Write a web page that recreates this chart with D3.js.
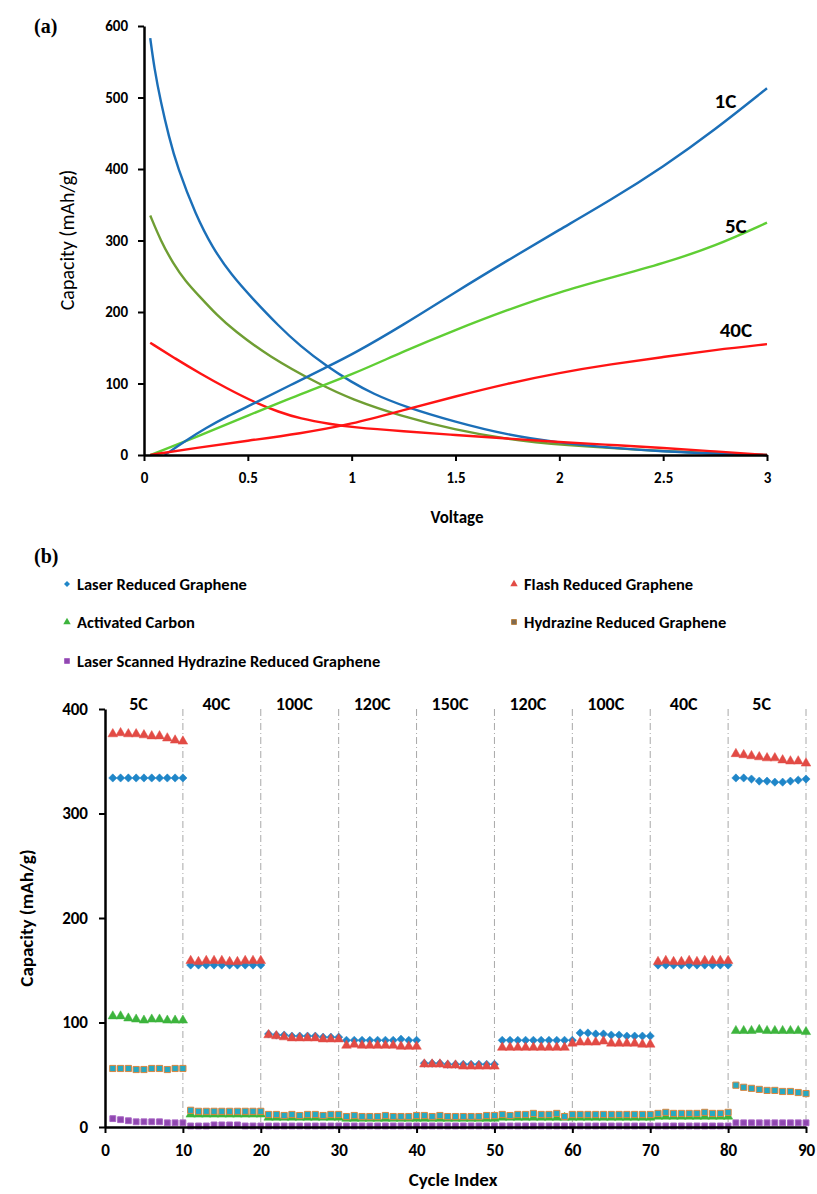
<!DOCTYPE html>
<meta charset="utf-8">
<style type="text/css">
	body { margin: 0; background: #fff; }
	svg { display: block; }
	text { font-family: Carlito, Lato, "Open Sans", sans-serif; fill: #000; }
	.panel { font-family: "Liberation Serif", "Times New Roman", serif; font-weight: bold; font-size: 20px; }
</style>
<body></body>
<script src="https://d3js.org/d3.v7.min.js"></script>
<script>

	// ---- (a) capacity vs voltage ----
	var v1cCharge   = [0.1, 0.2, 0.3, 0.4, 0.53, 0.7, 0.88, 1.0, 1.25, 1.5, 1.75, 2.0, 2.25, 2.5, 2.75, 3.0];
	var cap1cCharge = [0, 20, 38, 54, 72, 97, 123, 140, 182, 228, 272, 315, 357, 403, 455, 513];
	var v1cDis      = [0.03, 0.05, 0.08, 0.12, 0.16, 0.25, 0.33, 0.42, 0.525, 0.65, 0.75, 0.88, 1.0, 1.1, 1.25, 1.5, 1.75, 2.0, 2.25, 2.5, 2.75, 3.0];
	var cap1cDis    = [583, 540, 495, 445, 403, 335, 290, 252, 218, 180, 153, 124, 102, 86, 68, 46, 28, 17, 10, 5, 2, 0];

	var v5cCharge   = [0.03, 0.25, 0.5, 0.75, 1.0, 1.25, 1.5, 1.75, 2.0, 2.25, 2.5, 2.75, 3.0];
	var cap5cCharge = [0, 25, 55, 85, 112, 145, 175, 203, 228, 248, 268, 292, 325];
	var v5cDis      = [0.03, 0.08, 0.14, 0.2, 0.27, 0.35, 0.43, 0.6, 0.85, 1.0, 1.23, 1.5, 1.75, 2.0, 2.5, 3.0];
	var cap5cDis    = [335, 300, 268, 243, 221, 196, 175, 138, 98, 78, 55, 35, 22, 14, 5, 0];

	var v40cCharge   = [0.03, 0.25, 0.5, 0.75, 1.0, 1.25, 1.5, 1.75, 2.0, 2.25, 2.5, 2.75, 3.0];
	var cap40cCharge = [0, 10, 20, 30, 43, 63, 82, 100, 115, 127, 137, 147, 155];
	var v40cDis      = [0.03, 0.15, 0.27, 0.4, 0.53, 0.65, 0.75, 0.9, 1.0, 1.25, 1.5, 1.75, 2.0, 2.25, 2.5, 2.75, 3.0];
	var cap40cDis    = [157, 135, 114, 93, 74, 60, 51, 43, 39, 33, 28, 23, 18, 14, 10, 5, 0];

	var rateLabels = ["1C", "5C", "40C"];
	var voltTicks = [0, 0.5, 1, 1.5, 2, 2.5, 3];
	var capTicksA = [0, 100, 200, 300, 400, 500, 600];

	// ---- (b) rate capability ----
	var segmentLabels = ["5C", "40C", "100C", "120C", "150C", "120C", "100C", "40C", "5C"];
	var seriesNames = ["Laser Reduced Graphene", "Flash Reduced Graphene", "Activated Carbon",
		"Hydrazine Reduced Graphene", "Laser Scanned Hydrazine Reduced Graphene"];

	var laserRG = [
		334,334,334,334,334,334,334,334,334,334,
		155,155,155,155,155,155,155,155,155,155,
		89,88,88,87,87,87,87,86,86,86,
		83,83,83,83,83,83,83,84,83,83,
		61,61,61,60,60,60,60,60,60,60,
		83,83,83,83,83,83,83,83,83,83,
		90,90,89,89,88,88,87,87,87,87,
		155,155,155,155,155,155,155,155,155,155,
		334,334,333,331,331,330,330,331,332,333];
	var flashRG = [
		377,378,377,377,376,375,375,373,371,370,
		160,159,160,160,160,159,159,160,160,160,
		89,88,87,86,86,86,86,85,85,85,
		79,80,79,79,79,79,79,78,78,78,
		61,61,61,60,60,59,59,59,59,59,
		77,77,77,77,77,77,77,77,77,81,
		82,82,82,83,81,81,81,81,80,80,
		159,160,159,159,160,159,160,160,160,160,
		358,357,356,355,354,354,352,351,351,349];
	var activatedC = [
		107,107,105,104,103,104,104,103,103,103,
		13,13,13,13,13,13,13,13,13,13,
		10,10,10,10,10,10,10,10,10,10,
		9,9,9,9,9,9,9,9,9,9,
		9,9,9,9,9,9,9,9,9,9,
		10,10,10,10,10,10,10,10,10,10,
		10,10,10,10,10,10,10,10,10,10,
		11,11,11,11,11,11,11,11,11,11,
		93,93,93,94,93,93,93,93,93,92];
	var hydrazineRG = [
		56,56,56,55,55,56,56,55,56,56,
		16,15,15,15,15,15,15,15,15,15,
		12,12,11,12,11,12,12,11,12,12,
		10,11,10,10,10,11,10,10,10,11,
		11,10,11,10,10,10,10,10,11,11,
		12,11,12,12,13,12,12,13,10,12,
		12,12,12,12,12,12,12,12,12,12,
		13,14,13,13,13,13,14,13,13,14,
		40,38,37,36,35,35,34,34,33,32];
	var laserScannedHRG = [
		8,7,6,5,5,5,5,4,4,4,
		1,1,1,2,2,2,2,1,1,1,
		1,1,1,1,1,1,1,1,1,1,
		1,1,1,1,1,1,1,1,1,1,
		1,1,1,1,1,1,1,1,1,1,
		1,1,1,1,1,1,1,1,1,1,
		1,1,1,1,1,1,1,1,1,1,
		1,1,1,1,1,1,1,1,1,1,
		4,4,4,4,4,4,4,4,4,4];
	var cycleTicks = [0, 10, 20, 30, 40, 50, 60, 70, 80, 90];
	var capTicksB = [0, 100, 200, 300, 400];

	var blue = "#1b6fb8", green = "#5fce34", olive = "#6f9e33", red = "#ff1414";

	var svg = d3.select("body").append("svg")
		.attr("width", 817)
		.attr("height", 1194);

	// ================= panel (a) =================
	var xA = d3.scaleLinear().domain([0, 3]).range([144, 767]);
	var yA = d3.scaleLinear().domain([0, 600]).range([455, 26]);

	svg.append("text").attr("class", "panel").attr("x", 34).attr("y", 33).text("(a)");

	var line = d3.line()
		.x(function(d) { return xA(d[0]); })
		.y(function(d) { return yA(d[1]); })
		.curve(d3.curveBasis);

	var curves = [
		{v: v5cDis, c: cap5cDis, color: olive},
		{v: v1cDis, c: cap1cDis, color: blue},
		{v: v40cDis, c: cap40cDis, color: red},
		{v: v5cCharge, c: cap5cCharge, color: green},
		{v: v1cCharge, c: cap1cCharge, color: blue},
		{v: v40cCharge, c: cap40cCharge, color: red}
	];

	svg.append("g").selectAll("path")
		.data(curves)
		.enter()
		.append("path")
		.attr("d", function(d) { return line(d3.zip(d.v, d.c)); })
		.attr("fill", "none")
		.attr("stroke", function(d) { return d.color; })
		.attr("stroke-width", 2.4);

	var axA = svg.append("g");
	axA.append("g")
		.attr("transform", "translate(0,455)")
		.call(d3.axisBottom(xA).tickValues(voltTicks).tickFormat(d3.format("")).tickSizeInner(6).tickSizeOuter(0).tickPadding(11));
	axA.append("g")
		.attr("transform", "translate(144,0)")
		.call(d3.axisLeft(yA).tickValues(capTicksA).tickSizeInner(6).tickSizeOuter(0).tickPadding(10));
	axA.selectAll(".domain").attr("stroke", "#000").attr("stroke-width", 2.5);
	axA.selectAll(".tick line").attr("stroke", "#000").attr("stroke-width", 2);
	axA.selectAll(".tick text").attr("font-size", "15px").attr("font-weight", "bold")
		.attr("font-family", "Carlito, Lato, sans-serif");

	svg.append("text")
		.attr("x", 457).attr("y", 523)
		.attr("text-anchor", "middle")
		.attr("font-size", "17px").attr("font-weight", "bold")
		.text("Voltage");
	svg.append("text")
		.attr("transform", "translate(74,240) rotate(-90)")
		.attr("text-anchor", "middle")
		.attr("font-size", "20px")
		.text("Capacity (mAh/g)");

	var rateEnds = [cap1cCharge[cap1cCharge.length - 1], cap5cCharge[cap5cCharge.length - 1], cap40cCharge[cap40cCharge.length - 1]];
	var rateDy = [20, 10, -7];
	var rateX = [2.8, 2.85, 2.85];
	svg.append("g").selectAll("text")
		.data(rateLabels)
		.enter()
		.append("text")
		.attr("x", function(d, i) { return xA(rateX[i]); })
		.attr("y", function(d, i) { return yA(rateEnds[i]) + rateDy[i]; })
		.attr("text-anchor", "middle")
		.attr("font-size", "21px").attr("font-weight", "bold")
		.text(function(d) { return d; });

	// ================= panel (b) =================
	var xB = d3.scaleLinear().domain([0, 90]).range([105, 806]);
	var yB = d3.scaleLinear().domain([0, 400]).range([1127, 709]);

	svg.append("text").attr("class", "panel").attr("x", 34).attr("y", 563).text("(b)");

	// legend
	var legendPos = [[67, 584], [514, 584], [67, 622], [514, 622], [67, 661]];
	var legendShapes = [
		{sym: d3.symbolSquare, rot: 45, size: 18, fill: "#1f86c8", stroke: "none"},
		{sym: d3.symbolTriangle, rot: 0, size: 24, fill: "#e24b45", stroke: "none"},
		{sym: d3.symbolTriangle, rot: 0, size: 24, fill: "#3db43d", stroke: "none"},
		{sym: d3.symbolSquare, rot: 0, size: 24, fill: "#7d6a52", stroke: "#b8823f"},
		{sym: d3.symbolSquare, rot: 0, size: 24, fill: "#8f47b0", stroke: "#a866c4"}
	];
	var legend = svg.append("g").selectAll("g")
		.data(seriesNames)
		.enter()
		.append("g")
		.attr("transform", function(d, i) { return "translate(" + legendPos[i][0] + "," + legendPos[i][1] + ")"; });
	legend.append("path")
		.attr("transform", function(d, i) { return "rotate(" + legendShapes[i].rot + ")"; })
		.attr("d", function(d, i) { return d3.symbol().type(legendShapes[i].sym).size(legendShapes[i].size)(); })
		.attr("fill", function(d, i) { return legendShapes[i].fill; })
		.attr("stroke", function(d, i) { return legendShapes[i].stroke; });
	legend.append("text")
		.attr("x", 10).attr("y", 6)
		.attr("font-size", "16.5px").attr("font-weight", "600")
		.text(function(d) { return d; });

	// segment separators
	svg.append("g").selectAll("line")
		.data(cycleTicks.slice(1))
		.enter()
		.append("line")
		.attr("x1", function(d) { return xB(d); })
		.attr("x2", function(d) { return xB(d); })
		.attr("y1", yB(400))
		.attr("y2", yB(0))
		.attr("stroke", "#a8a8a8")
		.attr("stroke-width", 1)
		.attr("stroke-dasharray", "7,3,1,3");

	svg.append("g").selectAll("text")
		.data(segmentLabels)
		.enter()
		.append("text")
		.attr("x", function(d, i) { return xB(i * 10 + 4.3); })
		.attr("y", 710)
		.attr("text-anchor", "middle")
		.attr("font-size", "18px").attr("font-weight", "bold")
		.text(function(d) { return d; });

	// series, drawn in order so later series sit on top
	var seriesData = [laserRG, flashRG, activatedC, hydrazineRG, laserScannedHRG];
	var markers = [
		{sym: d3.symbolSquare, rot: 45, size: 34, fill: "#1f86c8", stroke: "#1f86c8", sw: 0.5, dy: 0},
		{sym: d3.symbolTriangle, rot: 0, size: 40, fill: "#e24b45", stroke: "#e24b45", sw: 0.5, dy: 1},
		{sym: d3.symbolTriangle, rot: 0, size: 38, fill: "#3db43d", stroke: "#3db43d", sw: 0.5, dy: 1},
		{sym: d3.symbolSquare, rot: 0, size: 38, fill: "#27a9c2", stroke: "#d9863f", sw: 1, dy: 0},
		{sym: d3.symbolSquare, rot: 0, size: 34, fill: "#8f47b0", stroke: "#a866c4", sw: 1, dy: 0}
	];

	seriesData.forEach(function(values, s) {
		var m = markers[s];
		svg.append("g").selectAll("path")
			.data(values)
			.enter()
			.append("path")
			.attr("transform", function(d, i) {
				return "translate(" + xB(i + 1) + "," + (yB(d) + m.dy) + ") rotate(" + m.rot + ")";
			})
			.attr("d", d3.symbol().type(m.sym).size(m.size))
			.attr("fill", m.fill)
			.attr("stroke", m.stroke)
			.attr("stroke-width", m.sw);
	});

	var axB = svg.append("g");
	axB.append("g")
		.attr("transform", "translate(0,1127)")
		.call(d3.axisBottom(xB).tickValues(cycleTicks).tickSizeInner(6).tickSizeOuter(0).tickPadding(11));
	axB.append("g")
		.attr("transform", "translate(105,0)")
		.call(d3.axisLeft(yB).tickValues(capTicksB).tickSizeInner(6).tickSizeOuter(0).tickPadding(11));
	axB.selectAll(".domain").attr("stroke", "#000").attr("stroke-width", 2.5);
	axB.selectAll(".tick line").attr("stroke", "#000").attr("stroke-width", 2);
	axB.selectAll(".tick text").attr("font-size", "17px").attr("font-weight", "bold")
		.attr("font-family", "Carlito, Lato, sans-serif");

	svg.append("text")
		.attr("x", 453).attr("y", 1186)
		.attr("text-anchor", "middle")
		.attr("font-size", "19px").attr("font-weight", "bold")
		.text("Cycle Index");
	svg.append("text")
		.attr("transform", "translate(33,918) rotate(-90)")
		.attr("text-anchor", "middle")
		.attr("font-size", "19px").attr("font-weight", "bold")
		.text("Capacity (mAh/g)");

</script>
